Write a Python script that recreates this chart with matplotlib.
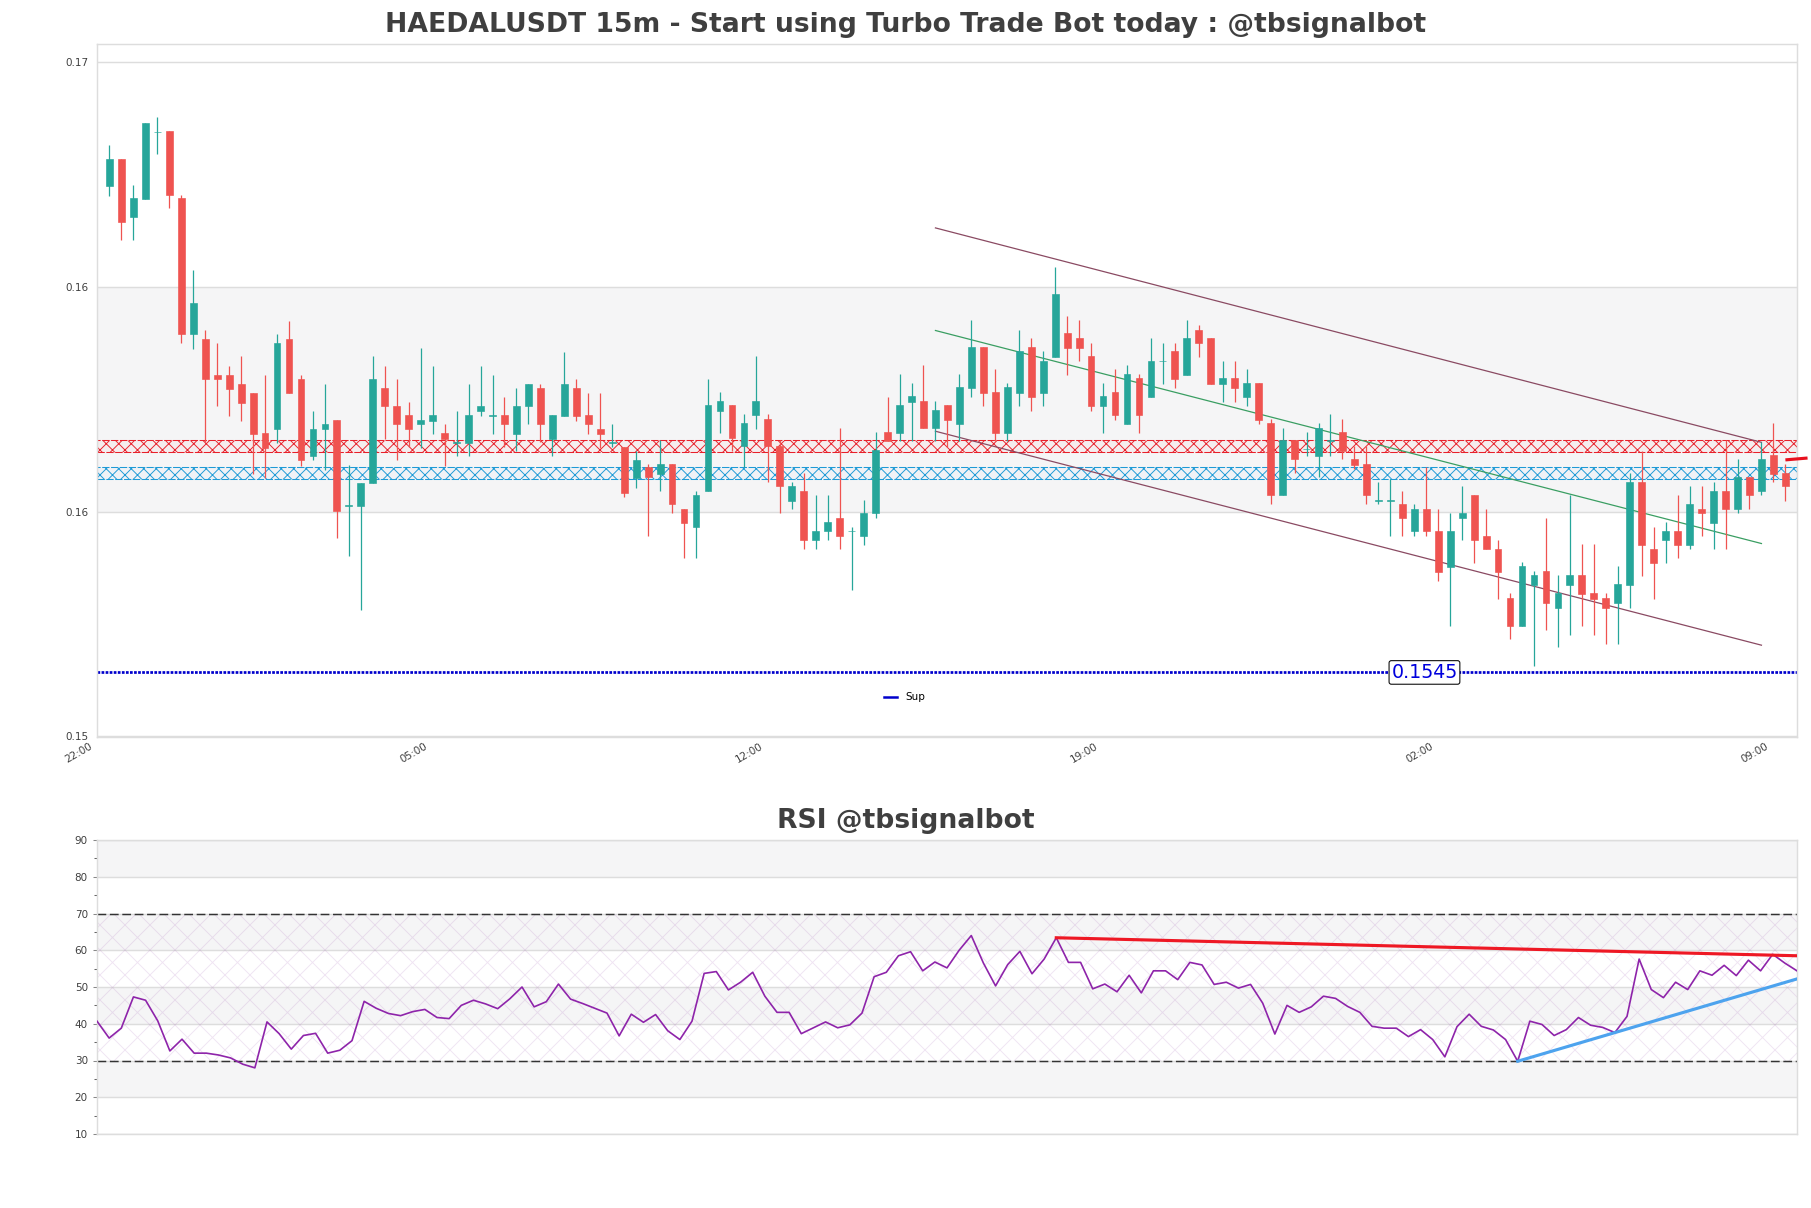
import matplotlib
matplotlib.use("Agg")
import matplotlib.pyplot as plt
from matplotlib.lines import Line2D
from matplotlib.transforms import ScaledTranslation

# candles, 15m
opens = [0.16503, 0.16562, 0.16435, 0.16475, 0.16619, 0.16621, 0.16476, 0.16182, 0.16172, 0.16094,
         0.16094, 0.16075, 0.16055, 0.15968, 0.15976, 0.16172, 0.16086, 0.15918, 0.15976, 0.15996,
         0.15811, 0.15811, 0.15859, 0.16066, 0.16027, 0.16007, 0.15987, 0.15995, 0.15968, 0.15947,
         0.15947, 0.16015, 0.16006, 0.16007, 0.15967, 0.16026, 0.16066, 0.15956, 0.16006, 0.16066,
         0.16007, 0.15977, 0.15947, 0.15938, 0.15870, 0.15894, 0.15880, 0.15901, 0.15804, 0.15764,
         0.15842, 0.16016, 0.16028, 0.15939, 0.16008, 0.15998, 0.15941, 0.15822, 0.15843, 0.15736,
         0.15756, 0.15784, 0.15756, 0.15745, 0.15794, 0.15970, 0.15969, 0.16036, 0.16037, 0.15978,
         0.16028, 0.15988, 0.16066, 0.16154, 0.16056, 0.15969, 0.16055, 0.16154, 0.16055, 0.16133,
         0.16184, 0.16173, 0.16134, 0.16026, 0.16056, 0.15988, 0.16087, 0.16046, 0.16124, 0.16145,
         0.16094, 0.16192, 0.16173, 0.16074, 0.16087, 0.16046, 0.16076, 0.15990, 0.15833, 0.15952,
         0.15933, 0.15919, 0.15951, 0.15970, 0.15912, 0.15901, 0.15822, 0.15822, 0.15815, 0.15756,
         0.15804, 0.15757, 0.15678, 0.15784, 0.15835, 0.15746, 0.15718, 0.15611, 0.15551, 0.15639,
         0.15669, 0.15590, 0.15639, 0.15660, 0.15621, 0.15611, 0.15601, 0.15639, 0.15863, 0.15718,
         0.15736, 0.15757, 0.15725, 0.15804, 0.15774, 0.15843, 0.15803, 0.15873, 0.15842, 0.15921,
         0.15882]
highs = [0.16592, 0.16562, 0.16504, 0.16640, 0.16651, 0.16621, 0.16484, 0.16320, 0.16191, 0.16163,
         0.16114, 0.16134, 0.16055, 0.16094, 0.16183, 0.16211, 0.16094, 0.16016, 0.16075, 0.15996,
         0.15899, 0.15860, 0.16134, 0.16114, 0.16086, 0.16036, 0.16152, 0.16114, 0.15987, 0.16016,
         0.16075, 0.16114, 0.16094, 0.16046, 0.16066, 0.16075, 0.16075, 0.16007, 0.16144, 0.16086,
         0.16055, 0.16055, 0.15987, 0.15938, 0.15929, 0.15901, 0.15952, 0.15901, 0.15804, 0.15843,
         0.16086, 0.16056, 0.16028, 0.16009, 0.16134, 0.16009, 0.15953, 0.15862, 0.15881, 0.15835,
         0.15835, 0.15979, 0.15765, 0.15824, 0.15971, 0.16047, 0.16095, 0.16076, 0.16115, 0.16037,
         0.16028, 0.16095, 0.16212, 0.16154, 0.16106, 0.16076, 0.16192, 0.16173, 0.16145, 0.16327,
         0.16222, 0.16212, 0.16163, 0.16076, 0.16106, 0.16115, 0.16095, 0.16173, 0.16163, 0.16163,
         0.16212, 0.16202, 0.16173, 0.16125, 0.16125, 0.16106, 0.16076, 0.15998, 0.15979, 0.15952,
         0.15970, 0.15990, 0.16009, 0.15998, 0.15941, 0.15941, 0.15862, 0.15869, 0.15843, 0.15815,
         0.15894, 0.15804, 0.15795, 0.15854, 0.15835, 0.15804, 0.15736, 0.15621, 0.15688, 0.15669,
         0.15784, 0.15660, 0.15833, 0.15727, 0.15727, 0.15621, 0.15680, 0.15881, 0.15930, 0.15765,
         0.15776, 0.15835, 0.15854, 0.15854, 0.15862, 0.15952, 0.15912, 0.15873, 0.15948, 0.15990,
         0.15901]
lows = [0.16482, 0.16385, 0.16385, 0.16475, 0.16572, 0.16455, 0.16162, 0.16151, 0.15949, 0.16026,
        0.16006, 0.15995, 0.15879, 0.15870, 0.15946, 0.16054, 0.15897, 0.15909, 0.15889, 0.15741,
        0.15703, 0.15586, 0.15859, 0.15956, 0.15909, 0.15938, 0.15936, 0.15966, 0.15897, 0.15918,
        0.15918, 0.16006, 0.15966, 0.15938, 0.15929, 0.15987, 0.15948, 0.15918, 0.16006, 0.15995,
        0.15967, 0.15936, 0.15938, 0.15830, 0.15850, 0.15745, 0.15842, 0.15794, 0.15697, 0.15697,
        0.15842, 0.15969, 0.15930, 0.15894, 0.15977, 0.15862, 0.15794, 0.15803, 0.15717, 0.15717,
        0.15736, 0.15717, 0.15629, 0.15725, 0.15784, 0.15950, 0.15950, 0.15950, 0.15978, 0.15950,
        0.15937, 0.15950, 0.16046, 0.16026, 0.15950, 0.15950, 0.16026, 0.16016, 0.16026, 0.16133,
        0.16094, 0.16124, 0.16016, 0.15969, 0.15997, 0.15988, 0.15969, 0.16046, 0.16074, 0.16066,
        0.16094, 0.16133, 0.16074, 0.16036, 0.16036, 0.16026, 0.15988, 0.15814, 0.15833, 0.15881,
        0.15919, 0.15873, 0.15919, 0.15911, 0.15891, 0.15814, 0.15814, 0.15745, 0.15745, 0.15745,
        0.15745, 0.15648, 0.15551, 0.15736, 0.15687, 0.15717, 0.15609, 0.15522, 0.15551, 0.15465,
        0.15542, 0.15504, 0.15532, 0.15551, 0.15532, 0.15512, 0.15512, 0.15590, 0.15659, 0.15609,
        0.15687, 0.15697, 0.15717, 0.15745, 0.15717, 0.15717, 0.15794, 0.15803, 0.15833, 0.15862,
        0.15822]
closes = [0.16562, 0.16424, 0.16476, 0.16640, 0.16620, 0.16483, 0.16182, 0.16250, 0.16085, 0.16085,
          0.16064, 0.16034, 0.15967, 0.15936, 0.16163, 0.16054, 0.15909, 0.15977, 0.15988, 0.15800,
          0.15812, 0.15860, 0.16086, 0.16026, 0.15987, 0.15976, 0.15996, 0.16007, 0.15956, 0.15948,
          0.16007, 0.16027, 0.16007, 0.15987, 0.16027, 0.16075, 0.15987, 0.16007, 0.16075, 0.16006,
          0.15987, 0.15967, 0.15948, 0.15838, 0.15910, 0.15872, 0.15901, 0.15814, 0.15774, 0.15835,
          0.16028, 0.16037, 0.15957, 0.15990, 0.16037, 0.15939, 0.15853, 0.15854, 0.15736, 0.15757,
          0.15776, 0.15745, 0.15757, 0.15795, 0.15932, 0.15950, 0.16028, 0.16048, 0.15978, 0.16017,
          0.15997, 0.16067, 0.16154, 0.16055, 0.15969, 0.16067, 0.16145, 0.16046, 0.16125, 0.16270,
          0.16152, 0.16152, 0.16026, 0.16048, 0.16008, 0.16095, 0.16008, 0.16125, 0.16125, 0.16085,
          0.16173, 0.16162, 0.16074, 0.16087, 0.16066, 0.16076, 0.15997, 0.15833, 0.15952, 0.15911,
          0.15934, 0.15979, 0.15952, 0.15930, 0.15899, 0.15833, 0.15823, 0.15823, 0.15784, 0.15804,
          0.15756, 0.15667, 0.15757, 0.15795, 0.15736, 0.15717, 0.15667, 0.15551, 0.15680, 0.15660,
          0.15601, 0.15621, 0.15660, 0.15620, 0.15609, 0.15590, 0.15641, 0.15863, 0.15725, 0.15687,
          0.15757, 0.15725, 0.15815, 0.15794, 0.15843, 0.15803, 0.15873, 0.15833, 0.15912, 0.15880,
          0.15853]

rsi = [40.7, 36.1, 38.8, 47.3, 46.4, 40.8, 32.6, 35.8, 32.0, 32.0, 31.5, 30.7, 29.0, 28.0, 40.5,
       37.3, 33.1, 36.8, 37.4, 32.0, 32.8, 35.4, 46.1, 44.2, 42.8, 42.2, 43.3, 43.9, 41.7, 41.4,
       45.0, 46.4, 45.4, 44.1, 46.8, 50.0, 44.6, 46.0, 50.8, 46.7, 45.5, 44.2, 42.9, 36.7, 42.6,
       40.4, 42.5, 38.1, 35.7, 40.7, 53.7, 54.2, 49.2, 51.3, 54.0, 47.5, 43.1, 43.1, 37.3, 38.9,
       40.5, 38.9, 39.7, 42.9, 52.8, 54.0, 58.5, 59.6, 54.4, 56.8, 55.2, 60.0, 64.0, 56.5, 50.3,
       56.1, 59.7, 53.6, 57.6, 63.4, 56.7, 56.7, 49.5, 50.8, 48.7, 53.2, 48.4, 54.4, 54.4, 52.0,
       56.7, 56.0, 50.7, 51.3, 49.7, 50.7, 45.6, 37.2, 45.0, 43.1, 44.6, 47.5, 46.9, 44.7, 43.1,
       39.3, 38.8, 38.8, 36.5, 38.4, 35.7, 31.0, 39.2, 42.6, 39.3, 38.3, 35.7, 29.8, 40.7, 39.8,
       36.8, 38.4, 41.7, 39.6, 39.0, 37.6, 42.0, 57.6, 49.3, 47.1, 51.3, 49.3, 54.4, 53.2, 55.9,
       53.1, 57.3, 54.4, 58.9, 56.5, 54.4]

time_labels = ["22:00", "05:00", "12:00", "19:00", "02:00", "09:00"]
time_ticks = [0, 28, 56, 84, 112, 140]

price_ticks = [0.153125, 0.15797, 0.16285, 0.16772]
res_zone = [0.15927, 0.15953]
sup_zone = [0.15868, 0.15894]
sup_level = 0.1545

# channel lines: start/end bar, then price at both ends
channel_x = [69, 138]
channel_top = [0.16412, 0.15948]
channel_mid = [0.16190, 0.15729]
channel_low = [0.15972, 0.15509]
last_x = [140, 141.85]
last_y = [0.15910, 0.15914]

rsi_ticks = [10, 20, 30, 40, 50, 60, 70, 80, 90]
rsi_down_x = [79, 140]
rsi_down_y = [63.4, 58.5]
rsi_up_x = [117, 140]
rsi_up_y = [29.8, 52.2]

UP = "#26a69a"
DOWN = "#ef5350"
GRID = "#dddddd"
BAND = "#f5f5f6"
TEXT = "#3f3f3f"

plt.rcParams["hatch.linewidth"] = 0.45

W, H = 1811, 1208
fig = plt.figure(figsize=(W / 150, H / 150), dpi=150)
ax = fig.add_axes([97 / W, 1 - 737 / H, 1700 / W, 693 / H])
ax2 = fig.add_axes([97 / W, 1 - 1134 / H, 1700 / W, 294 / H])


def style_axes(a):
    for s in a.spines.values():
        s.set_color(GRID)
        s.set_linewidth(0.7)
    a.set_axisbelow(True)
    a.yaxis.grid(True, color=GRID, linewidth=0.7)


# price panel
style_axes(ax)
ax.set_xlim(-1.04, 140.97)
ax.set_ylim(0.153103, 0.1681)
ax.axhspan(price_ticks[1], price_ticks[2], color=BAND, lw=0, zorder=0)
ax.axhspan(res_zone[0], res_zone[1], facecolor=(1, 0, 0, 0.03), edgecolor="#e8202a", hatch="xxxx",
           lw=0.5, ls=(0, (7, 1.5)), zorder=1)
ax.axhspan(sup_zone[0], sup_zone[1], facecolor=(0, 0.5, 1, 0.02), edgecolor="#1e9ad6", hatch="xxxx",
           lw=0.5, ls=(0, (7, 1.5)), zorder=1)

ax.plot(channel_x, channel_top, color="#8a4a62", lw=0.6, zorder=2)
ax.plot(channel_x, channel_mid, color="#3a9e62", lw=0.6, zorder=2)
ax.plot(channel_x, channel_low, color="#8a4a62", lw=0.6, zorder=2)

ax.axhline(sup_level, color="#0000cc", lw=1.3, ls=(0, (1, 0.5)), zorder=2)
ax.text(109.85, sup_level, "0.1545", color="#0000dd", fontsize=9.1, ha="center", va="center", zorder=6,
        bbox=dict(boxstyle="round,pad=0.12", fc="white", ec="black", lw=0.5))

for i in range(len(opens)):
    color = UP if closes[i] >= opens[i] else DOWN
    ax.vlines(i, lows[i], highs[i], color=color, lw=0.6, zorder=3)
    ax.bar(i, abs(closes[i] - opens[i]), bottom=min(opens[i], closes[i]), width=0.57,
           color=color, edgecolor=color, lw=0.3, zorder=4)

ax.plot(last_x, last_y, color="#e8101e", lw=1.5, clip_on=False, zorder=5, solid_capstyle="butt")

ax.set_yticks(price_ticks)
ax.set_yticklabels(["%.2f" % p for p in price_ticks])
ax.set_xticks(time_ticks)
ax.set_xticklabels(time_labels, rotation=30, ha="right")
ax.tick_params(axis="y", length=0, labelsize=5, labelcolor=TEXT, pad=4)
ax.tick_params(axis="x", length=0, labelsize=5, labelcolor=TEXT, pad=2)
shift = ScaledTranslation(-15 / 150, 0, fig.dpi_scale_trans)
for lbl in ax.get_xticklabels():
    lbl.set_transform(lbl.get_transform() + shift)

sup_handle = Line2D([], [], color="#0000cc", lw=1.2)
ax.legend([sup_handle], ["Sup"], loc="center", bbox_to_anchor=(0.475, 0.057), frameon=False, fontsize=5,
          handlelength=1.2, handletextpad=0.8)

# rsi panel
style_axes(ax2)
ax2.set_xlim(0, len(rsi) - 1)
ax2.set_ylim(10, 90)
for lo in [20, 40, 60, 80]:
    ax2.axhspan(lo, lo + 10, color=BAND, lw=0, zorder=0)
ax2.axhspan(30, 70, facecolor="none", edgecolor=(0.55, 0.2, 0.65, 0.13), hatch="xx", lw=0, zorder=1)
ax2.axhline(70, color="#333333", lw=0.7, ls=(0, (6, 2.5)), zorder=2)
ax2.axhline(30, color="#333333", lw=0.7, ls=(0, (6, 2.5)), zorder=2)
ax2.plot(range(len(rsi)), rsi, color="#8e24aa", lw=0.8, zorder=3)
ax2.plot(rsi_down_x, rsi_down_y, color="#ee1824", lw=1.5, zorder=4)
ax2.plot(rsi_up_x, rsi_up_y, color="#4da3ee", lw=1.5, zorder=4)
ax2.set_yticks(rsi_ticks)
ax2.set_yticks([15, 25, 35, 45, 55, 65, 75, 85], minor=True)
ax2.set_xticks([])
ax2.tick_params(axis="y", which="major", length=2, width=0.5, labelsize=5, labelcolor=TEXT, color="#888888", pad=2.4)
ax2.tick_params(axis="y", which="minor", length=1.5, width=0.5, color="#666666")

fig.text(905.5 / W, 1 - 25 / H, "HAEDALUSDT 15m - Start using Turbo Trade Bot today : @tbsignalbot",
         fontsize=12.77, fontweight="bold", color=TEXT, ha="center", va="center")
fig.text(905.5 / W, 1 - 821 / H, "RSI @tbsignalbot",
         fontsize=12.77, fontweight="bold", color=TEXT, ha="center", va="center")

fig.savefig("out.png", dpi=150)
